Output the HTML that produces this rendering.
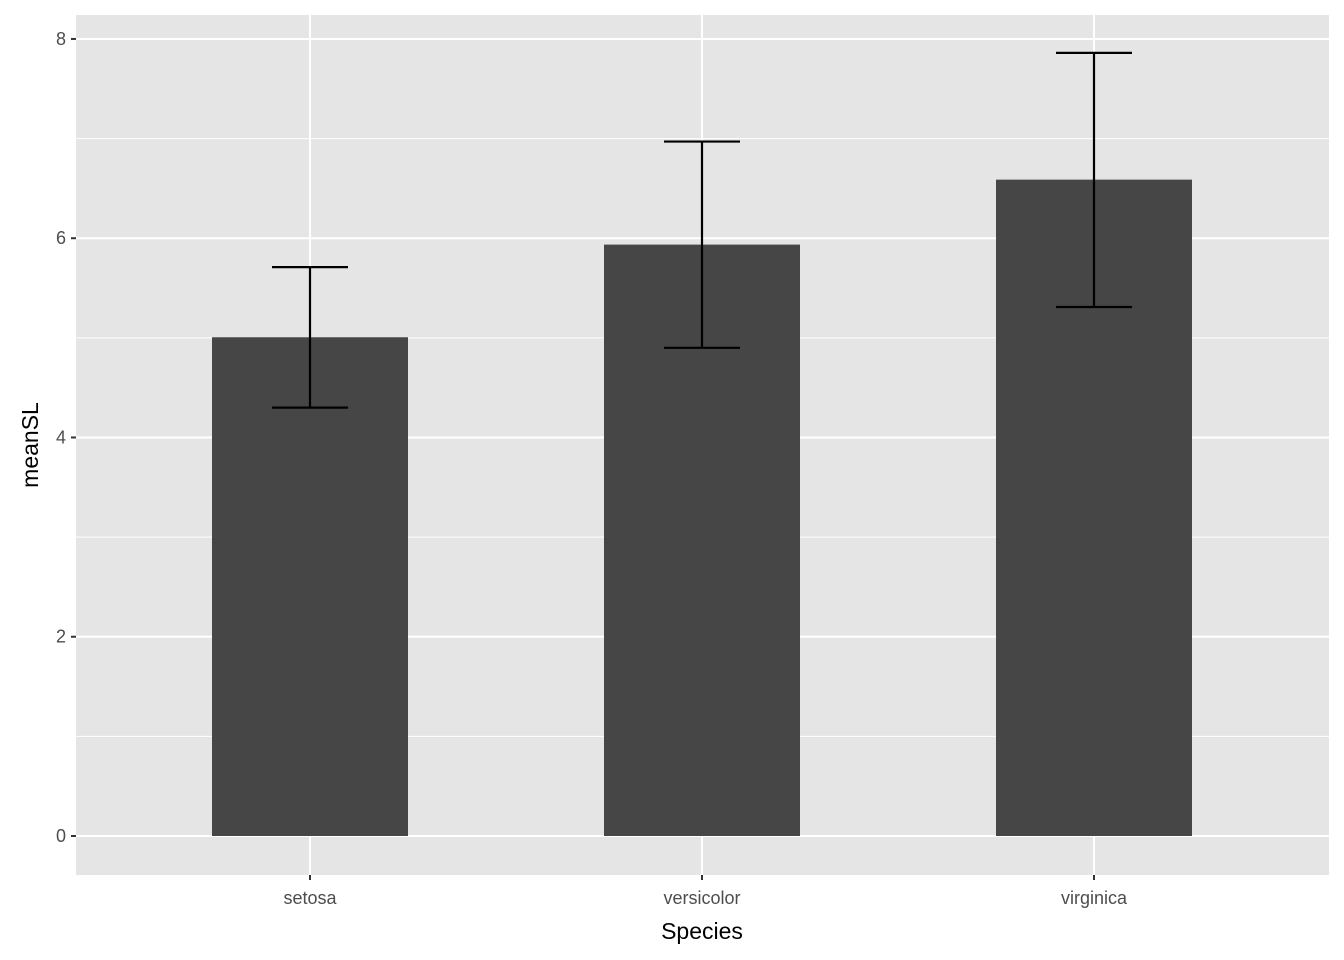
<!DOCTYPE html>
<html><head><meta charset="utf-8"><style>
html,body{margin:0;padding:0;background:#fff;}
svg{display:block;font-family:"Liberation Sans",Arial,sans-serif;}
</style></head><body>
<svg id="chart" width="1344" height="960">
<rect x="0" y="0" width="1344" height="960" fill="#fff"/>
<rect x="76" y="15" width="1253" height="860" fill="#e5e5e5"/>
<g id="grid"></g><g id="bars"></g><g id="axes"></g>
<text x="702" y="939" text-anchor="middle" font-size="23" fill="#000">Species</text>
<text transform="translate(38,445) rotate(-90)" text-anchor="middle" font-size="23" fill="#000">meanSL</text>
</svg>
<script>
const categories=["setosa","versicolor","virginica"];
const means=[5.006,5.936,6.588];
const lows=[4.3,4.9,5.31];
const highs=[5.71,6.97,7.86];
const yTicks=[0,2,4,6,8];
const yMinor=[1,3,5,7];
const NS="http://www.w3.org/2000/svg";
const y=v=>836-v*99.63;
const x=i=>310+i*392;
function mk(tag,attrs,parent){const e=document.createElementNS(NS,tag);for(const k in attrs)e.setAttribute(k,attrs[k]);parent.appendChild(e);return e;}
const grid=document.getElementById('grid'),bars=document.getElementById('bars'),axes=document.getElementById('axes');
yMinor.forEach(v=>{const l=mk('line',{x1:76,x2:1329,y1:y(v),y2:y(v),stroke:'#fff','stroke-width':1},grid);

});
yTicks.forEach(v=>{const l=mk('line',{x1:76,x2:1329,y1:y(v),y2:y(v),stroke:'#fff','stroke-width':2},grid);


const t=mk('line',{x1:71,x2:76,y1:y(v),y2:y(v),stroke:'#333','stroke-width':2},axes);


const tx=mk('text',{x:66,y:y(v)+6,'text-anchor':'end','font-size':18,fill:'#4d4d4d'},axes);tx.textContent=v;

});
categories.forEach((c,i)=>{const g=mk('line',{x1:x(i),x2:x(i),y1:15,y2:875,stroke:'#fff','stroke-width':2},grid);


const b=mk('rect',{x:x(i)-98,width:196,y:y(means[i]),height:y(0)-y(means[i]),fill:'#464646'},bars);


const eg=mk('g',{stroke:'#000','stroke-width':2.2},bars);


mk('line',{x1:x(i),x2:x(i),y1:y(lows[i]),y2:y(highs[i])},eg);
mk('line',{x1:x(i)-38,x2:x(i)+38,y1:y(lows[i]),y2:y(lows[i])},eg);
mk('line',{x1:x(i)-38,x2:x(i)+38,y1:y(highs[i]),y2:y(highs[i])},eg);
const t=mk('line',{x1:x(i),x2:x(i),y1:875,y2:880,stroke:'#333','stroke-width':2},axes);


const tx=mk('text',{x:x(i),y:904,'text-anchor':'middle','font-size':18,fill:'#4d4d4d'},axes);tx.textContent=c;

});
</script>
</body></html>
